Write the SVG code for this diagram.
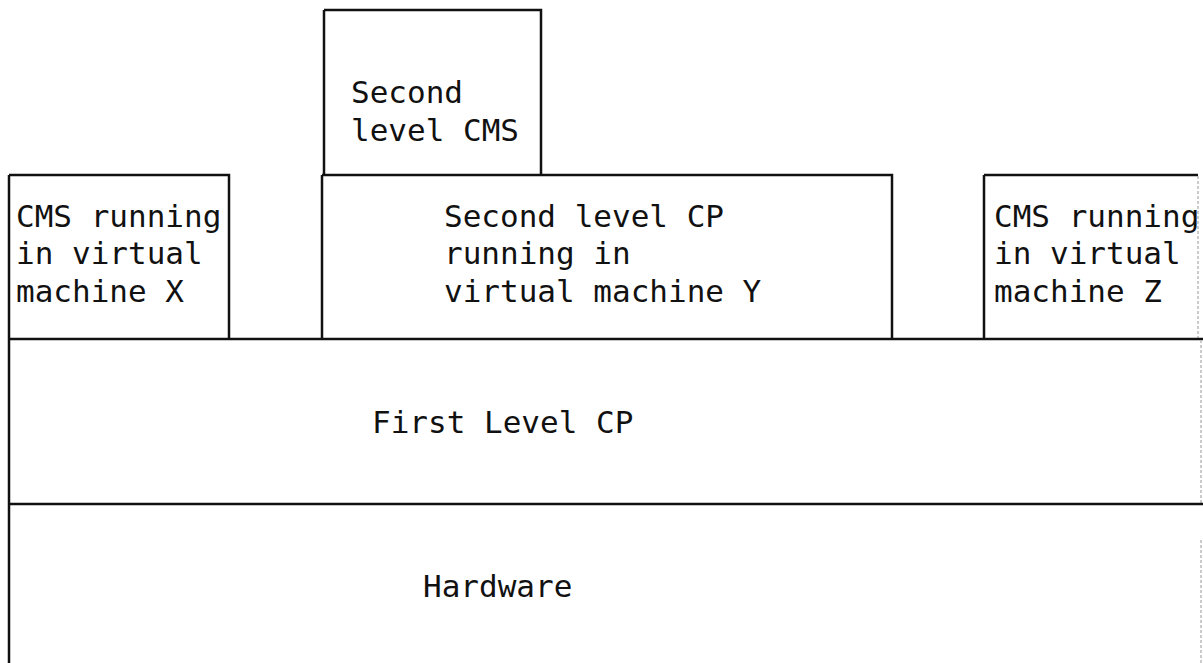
<svg xmlns="http://www.w3.org/2000/svg" width="1203" height="663" viewBox="0 0 1203 663">
<style>
.ln{stroke:#111;stroke-width:2.5;fill:none}
.fa{stroke:#bbb;stroke-width:1.5;fill:none;stroke-dasharray:3 2}
.t{font-family:"DejaVu Sans Mono","Liberation Mono",monospace;font-size:31px;fill:#111}
</style>
<rect width="1203" height="663" fill="#fff"/>
<g id="cms2">
<path class="ln" d="M324,10 H541 V175 M324,10 V175"/>
<text class="t" x="351" y="103">Second</text>
<text class="t" x="351" y="141">level CMS</text>
</g>
<g id="vmx">
<path class="ln" d="M9,175 H229 V339 M9,175 V339"/>
<text class="t" x="16" y="227">CMS running</text>
<text class="t" x="16" y="264">in virtual</text>
<text class="t" x="16" y="302">machine X</text>
</g>
<g id="vmy">
<path class="ln" d="M322,175 H892 V339 M322,175 V339"/>
<text class="t" x="444" y="227">Second level CP</text>
<text class="t" x="444" y="264">running in</text>
<text class="t" x="444" y="302">virtual machine Y</text>
</g>
<g id="vmz">
<path class="ln" d="M984,175 H1198 M984,175 V339"/>
<path class="fa" d="M1198,176 V339"/>
<text class="t" x="994" y="227">CMS running</text>
<text class="t" x="994" y="264">in virtual</text>
<text class="t" x="994" y="302">machine Z</text>
</g>
<g id="cp1">
<path class="ln" d="M9,339 H1203 M9,339 V504"/>
<path class="fa" d="M1201,340 V504"/>
<text class="t" x="372" y="433">First Level CP</text>
</g>
<g id="hw">
<path class="ln" d="M9,504 H1203 M9,504 V663"/>
<path class="fa" d="M1201,540 V663"/>
<text class="t" x="423" y="597">Hardware</text>
</g>
<g id="connectors"></g>
</svg>
